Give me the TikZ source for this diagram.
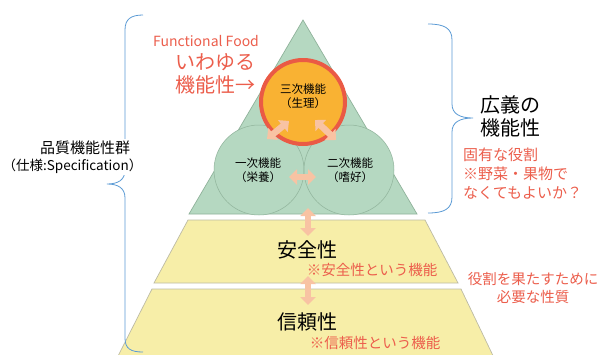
\documentclass[tikz,border=0pt]{standalone}
\usepackage{fontspec}
\setmainfont{Noto Sans CJK JP}
\usetikzlibrary{arrows.meta}
\definecolor{grn}{HTML}{B5D8C1}
\definecolor{grnline}{HTML}{8FB29A}
\definecolor{yel}{HTML}{F7EEA8}
\definecolor{yelline}{HTML}{BDBBA5}
\definecolor{org}{HTML}{F9B233}
\definecolor{redl}{HTML}{EA5A45}
\definecolor{redt}{HTML}{EC5E4C}
\definecolor{arr}{HTML}{F8C3A3}
\definecolor{brc}{HTML}{5B9BD5}
\begin{document}
\begin{tikzpicture}[x=1pt,y=-1pt,
  layer/.style={line width=0.7pt},
  fatarrow/.style={draw=arr,line width=6.5pt,{Triangle[width=15pt,length=8pt]}-{Triangle[width=15pt,length=8pt]}},
  brace/.style={draw=brc,line width=0.8pt},
  small/.style={font=\fontsize{11.5}{14.5}\selectfont,align=center,inner sep=0pt},
  big/.style={font=\fontsize{20}{23}\selectfont,inner sep=0pt},
  mid/.style={font=\fontsize{14.5}{18.5}\selectfont,inner sep=0pt},
  masklabel/.style={fill=white,inner sep=2pt}]
\clip (0,0) rectangle (600,354);
\fill[white] (0,0) rectangle (600,354);
% pyramid layers
\filldraw[layer,fill=grn,draw=grnline] (303,20) -- (417,214) -- (189,214) -- cycle;
\filldraw[layer,fill=yel,draw=yelline] (188,220) -- (425,220) -- (458,283) -- (154,283) -- cycle;
\filldraw[layer,fill=yel,draw=yelline] (152,289) -- (461,289) -- (497,364) -- (114,364) -- cycle;
% circles
\node[circle,minimum size=90pt,fill=grn,draw=grnline,line width=0.5pt] (c1) at (259,170) {};
\node[circle,minimum size=90pt,fill=grn,draw=grnline,line width=0.5pt] (c2) at (349,170) {};
\node[circle,minimum size=84pt,fill=org,draw=redl,line width=4pt] (c3) at (303,102) {};
\node[small] (t3) at (303,96) {三次機能\\（生理）};
\node[small] (t1) at (258,170) {一次機能\\（栄養）};
\node[small] (t2) at (350,170) {二次機能\\（嗜好）};
% arrows
\coordinate (a1s) at (267,139); \coordinate (a1e) at (289,121);
\coordinate (a2s) at (315,120); \coordinate (a2e) at (336,140);
\coordinate (a3s) at (289,177); \coordinate (a3e) at (316,177);
\coordinate (a4s) at (308,208); \coordinate (a4e) at (308,236);
\coordinate (a5s) at (308,276); \coordinate (a5e) at (308,305);
\draw[fatarrow] (a1s) -- (a1e);
\draw[fatarrow] (a2s) -- (a2e);
\draw[fatarrow] (a3s) -- (a3e);
\draw[fatarrow] (a4s) -- (a4e);
\draw[fatarrow] (a5s) -- (a5e);
% layer texts
\node[big] (anz) at (307,250) {安全性};
\node[mid,text=redt] (anzn) at (372,270) {※安全性という機能};
\node[big] (shin) at (307,322) {信頼性};
\node[mid,text=redt] (shinn) at (375,343) {※信頼性という機能};
% braces
\draw[brace] (143,15) .. controls (131,15) and (125,19) .. (125,30) -- (125,170) .. controls (125,180) and (118,184) .. (107,184) .. controls (118,184) and (125,188) .. (125,198) -- (125,338) .. controls (125,349) and (131,352) .. (143,352);
\draw[brace] (428,24) .. controls (444,24) and (452,28) .. (452,40) -- (452,104) .. controls (452,114) and (460,118) .. (473,118) .. controls (460,118) and (452,122) .. (452,132) -- (452,197) .. controls (452,209) and (444,213) .. (428,213);
% left texts
\node[masklabel,font=\fontsize{15}{18}\selectfont] (hin1) at (85,148) {品質機能性群};
\node[masklabel,font=\fontsize{13.5}{18}\selectfont] (hin2) at (72.5,166) {（仕様:Specification）};
\node[font=\fontsize{14}{16}\selectfont,text=redt,inner sep=0pt] (ff) at (206,41) {Functional Food};
\node[big,text=redt,align=left,anchor=west] (iwa) at (175,73.5) {いわゆる\\機能性→};
% right texts
\node[big,align=left,anchor=west] (kou) at (480,116.5) {広義の\\機能性};
\node[font=\fontsize{15}{19}\selectfont,text=redt,align=left,anchor=west,inner sep=0pt] (koyu) at (463,174) {固有な役割\\※野菜・果物で\\なくてもよいか？};
\node[mid,text=redt,align=center] (yaku) at (533,288) {役割を果たすために\\必要な性質};
\end{tikzpicture}
\end{document}
